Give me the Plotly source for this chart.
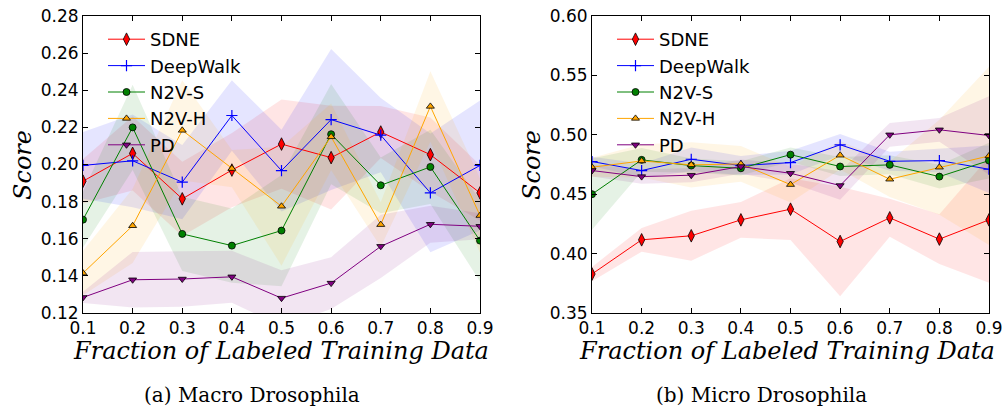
import plotly.graph_objects as go

fractions = [0.1, 0.2, 0.3, 0.4, 0.5, 0.6, 0.7, 0.8, 0.9]
methods = ["SDNE", "DeepWalk", "N2V-S", "N2V-H", "PD"]

# (a) Macro Drosophila: mean and std
macro_sdne = [0.191, 0.206, 0.1815, 0.197, 0.211, 0.2037, 0.2175, 0.2053, 0.1847]
macro_deepwalk = [0.1995, 0.202, 0.1905, 0.2264, 0.1967, 0.2242, 0.2158, 0.1847, 0.1995]
macro_n2vs = [0.1703, 0.220, 0.1626, 0.1563, 0.1644, 0.2163, 0.1888, 0.1987, 0.159]
macro_n2vh = [0.1415, 0.167, 0.2184, 0.1978, 0.1775, 0.2149, 0.1676, 0.2313, 0.1725]
macro_pd = [0.1284, 0.1379, 0.1383, 0.1395, 0.128, 0.1361, 0.1559, 0.1678, 0.1667]

macro_sdne_std = [0.012, 0.02, 0.02, 0.02, 0.024, 0.028, 0.014, 0.02, 0.015]
macro_deepwalk_std = [0.018, 0.025, 0.02, 0.019, 0.022, 0.038, 0.02, 0.032, 0.035]
macro_n2vs_std = [0.015, 0.023, 0.02, 0.02, 0.03, 0.027, 0.015, 0.02, 0.022]
macro_n2vh_std = [0.012, 0.02, 0.027, 0.01, 0.032, 0.018, 0.012, 0.019, 0.02]
macro_pd_std = [0.003, 0.015, 0.015, 0.014, 0.015, 0.014, 0.017, 0.01, 0.007]

# (b) Micro Drosophila: mean and std
micro_sdne = [0.3828, 0.4116, 0.415, 0.4284, 0.4374, 0.4102, 0.4301, 0.4122, 0.4284]
micro_deepwalk = [0.4775, 0.4699, 0.4794, 0.4741, 0.4766, 0.4916, 0.4777, 0.4783, 0.471]
micro_n2vs = [0.45, 0.4789, 0.4741, 0.4718, 0.4833, 0.4733, 0.4747, 0.4648, 0.4783]
micro_n2vh = [0.4727, 0.478, 0.4747, 0.4755, 0.4581, 0.4828, 0.4626, 0.4727, 0.4822]
micro_pd = [0.4699, 0.4648, 0.466, 0.4733, 0.4676, 0.4573, 0.50, 0.5042, 0.4994]

micro_sdne_std = [0.006, 0.01, 0.021, 0.015, 0.026, 0.046, 0.016, 0.021, 0.053]
micro_deepwalk_std = [0.004, 0.006, 0.01, 0.008, 0.01, 0.009, 0.008, 0.01, 0.02]
micro_n2vs_std = [0.03, 0.01, 0.006, 0.006, 0.006, 0.008, 0.008, 0.01, 0.015]
micro_n2vh_std = [0.008, 0.014, 0.019, 0.015, 0.015, 0.012, 0.015, 0.04, 0.075]
micro_pd_std = [0.005, 0.006, 0.006, 0.006, 0.008, 0.012, 0.01, 0.01, 0.033]

x_ticks = [0.1, 0.2, 0.3, 0.4, 0.5, 0.6, 0.7, 0.8, 0.9]
macro_y_ticks = [0.12, 0.14, 0.16, 0.18, 0.20, 0.22, 0.24, 0.26, 0.28]
micro_y_ticks = [0.35, 0.40, 0.45, 0.50, 0.55, 0.60]

colors = ["#ff0000", "#0000ff", "#008000", "#ffa500", "#800080"]
fills = ["rgba(255,0,0,0.1)", "rgba(0,0,255,0.1)", "rgba(0,128,0,0.1)",
         "rgba(255,165,0,0.1)", "rgba(128,0,128,0.1)"]
symbols = ["diamond-tall", "cross-thin", "circle", "triangle-up", "triangle-down"]
sizes = [9, 8, 7, 7, 7]

macro_means = [macro_sdne, macro_deepwalk, macro_n2vs, macro_n2vh, macro_pd]
macro_stds = [macro_sdne_std, macro_deepwalk_std, macro_n2vs_std, macro_n2vh_std, macro_pd_std]
micro_means = [micro_sdne, micro_deepwalk, micro_n2vs, micro_n2vh, micro_pd]
micro_stds = [micro_sdne_std, micro_deepwalk_std, micro_n2vs_std, micro_n2vh_std, micro_pd_std]

fig = go.Figure()

panels = [("x", "y", "legend", macro_means, macro_stds),
          ("x2", "y2", "legend2", micro_means, micro_stds)]

for xa, ya, leg, means, stds in panels:
    for i in range(5):
        upper = [m + s for m, s in zip(means[i], stds[i])]
        lower = [m - s for m, s in zip(means[i], stds[i])]
        fig.add_trace(go.Scatter(
            x=fractions + fractions[::-1], y=upper + lower[::-1],
            fill="toself", fillcolor=fills[i], line=dict(width=0),
            mode="lines", hoverinfo="skip", showlegend=False,
            xaxis=xa, yaxis=ya))
    for i in range(5):
        if symbols[i] == "cross-thin":
            marker = dict(symbol="cross-thin", size=sizes[i],
                          line=dict(color=colors[i], width=1.2), color=colors[i])
        else:
            marker = dict(symbol=symbols[i], size=sizes[i], color=colors[i],
                          line=dict(color="black", width=0.8))
        fig.add_trace(go.Scatter(
            x=fractions, y=means[i], mode="lines+markers", name=methods[i],
            line=dict(color=colors[i], width=1), marker=marker,
            xaxis=xa, yaxis=ya, legend=leg))

W, H = 1006, 412
axis_common = dict(showgrid=False, zeroline=False, showline=True, linecolor="black",
                   linewidth=1, mirror="ticks", ticks="inside", ticklen=5, automargin=False,
                   tickcolor="black", tickfont=dict(family="DejaVu Sans", size=17, color="black"))

fig.update_layout(
    width=W, height=H,
    margin=dict(l=0, r=0, t=0, b=0, autoexpand=False),
    paper_bgcolor="white", plot_bgcolor="white",
    xaxis=dict(domain=[83 / W, 480 / W], range=[0.1, 0.9], tickvals=x_ticks,
               tickformat=".1f", anchor="y", **axis_common),
    yaxis=dict(domain=[(H - 313) / H, (H - 16) / H], range=[0.12, 0.28],
               tickvals=macro_y_ticks, tickformat=".2f", anchor="x", **axis_common),
    xaxis2=dict(domain=[592 / W, 989 / W], range=[0.1, 0.9], tickvals=x_ticks,
                tickformat=".1f", anchor="y2", **axis_common),
    yaxis2=dict(domain=[(H - 313) / H, (H - 16) / H], range=[0.35, 0.60],
                tickvals=micro_y_ticks, tickformat=".2f", anchor="x2", **axis_common),
    legend=dict(x=103 / W, y=1 - 21 / H, xanchor="left", yanchor="top",
                bgcolor="rgba(0,0,0,0)", font=dict(family="DejaVu Sans", size=18, color="black"),
                itemwidth=37, tracegroupgap=0),
    legend2=dict(x=612 / W, y=1 - 21 / H, xanchor="left", yanchor="top",
                 bgcolor="rgba(0,0,0,0)", font=dict(family="DejaVu Sans", size=18, color="black"),
                 itemwidth=37, tracegroupgap=0),
    showlegend=True,
)

title_font = dict(family="DejaVu Serif", size=24, color="black", style="italic")
caption_font = dict(family="DejaVu Serif", size=20, color="black")
ann = []
for cx in [281, 787]:
    ann.append(dict(text="Fraction of Labeled Training Data", x=cx / W, y=1 - 351 / H,
                    xref="paper", yref="paper", showarrow=False, font=title_font,
                    xanchor="center", yanchor="middle"))
for cx in [23, 532]:
    ann.append(dict(text="Score", x=cx / W, y=1 - 165 / H, xref="paper", yref="paper",
                    showarrow=False, font=title_font, textangle=-90,
                    xanchor="center", yanchor="middle"))
ann.append(dict(text="(a) Macro Drosophila", x=252 / W, y=1 - 395 / H, xref="paper",
                yref="paper", showarrow=False, font=caption_font, xanchor="center", yanchor="middle"))
ann.append(dict(text="(b) Micro Drosophila", x=761 / W, y=1 - 395 / H, xref="paper",
                yref="paper", showarrow=False, font=caption_font, xanchor="center", yanchor="middle"))
fig.update_layout(annotations=ann)

fig.write_html("out.html", config={"displayModeBar": False},
               post_script="document.body.style.margin='0';document.body.style.overflow='hidden';")
